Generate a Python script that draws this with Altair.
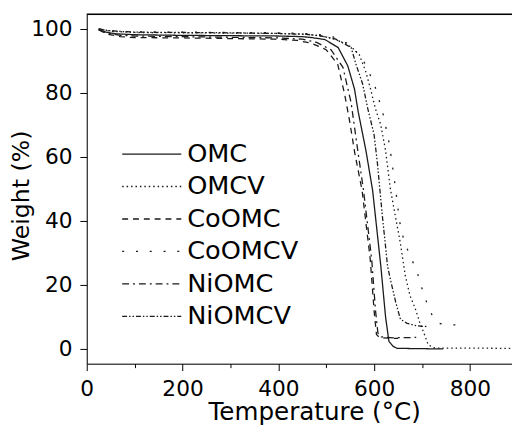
import altair as alt
import pandas as pd

# ---- data ----
series_names = ["OMC", "OMCV", "CoOMC", "CoOMCV", "NiOMC", "NiOMCV"]

omc_t = [25, 40, 60, 100, 200, 300, 400, 450, 470, 497, 525, 545, 559, 567, 583, 597, 614, 624, 631, 640, 648, 744]
omc_w = [99.8, 99.0, 98.5, 98.2, 98.0, 97.9, 97.8, 97.6, 97.3, 96.7, 94.2, 88.5, 81.3, 74.0, 62.0, 49.5, 26.0, 10.0, 2.4, 0.8, 0.2, 0.0]

omcv_t = [25, 50, 100, 200, 300, 400, 450, 480, 510, 540, 555, 569, 583, 593, 603, 614, 624, 634, 645, 655, 665, 675, 686, 696, 703, 713, 727, 890]
omcv_w = [99.9, 99.3, 98.9, 98.8, 98.7, 98.6, 98.4, 98.0, 97.2, 95.5, 94.0, 92.0, 86.5, 81.0, 75.0, 70.0, 62.0, 50.0, 41.0, 33.0, 23.0, 16.7, 12.6, 8.0, 5.4, 1.3, 0.3, 0.2]

coomc_t = [25, 40, 70, 100, 200, 300, 400, 440, 470, 500, 524, 538, 548, 560, 575, 592, 600, 605, 612, 650]
coomc_w = [99.8, 98.5, 97.6, 97.3, 97.2, 97.0, 96.8, 96.4, 95.5, 93.5, 89.0, 80.0, 72.0, 61.0, 49.5, 28.0, 12.0, 4.5, 3.5, 3.3]

coomcv_t = [25, 60, 100, 200, 300, 400, 470, 510, 545, 575, 600, 618, 632, 645, 653, 662, 674, 686, 696, 703, 715, 723, 735, 760, 785]
coomcv_w = [100.0, 99.3, 99.1, 99.0, 98.9, 98.8, 98.5, 97.8, 95.5, 91.0, 83.0, 74.0, 64.0, 50.0, 40.0, 34.0, 29.5, 25.5, 21.3, 17.2, 12.6, 10.0, 8.0, 7.5, 7.5]

niomc_t = [25, 40, 70, 100, 200, 300, 400, 450, 480, 510, 535, 552, 565, 578, 595, 603, 608, 615, 640, 688]
niomc_w = [99.7, 98.8, 98.0, 97.8, 97.6, 97.4, 97.2, 96.8, 95.8, 93.5, 88.0, 77.0, 63.0, 49.5, 28.0, 12.0, 5.0, 3.8, 3.5, 3.6]

niomcv_t = [25, 50, 100, 200, 300, 400, 460, 490, 520, 552, 563, 576, 587, 600, 607, 612, 617, 624, 628, 634, 645, 655, 669, 690, 712]
niomcv_w = [100.0, 99.4, 99.0, 98.9, 98.8, 98.6, 98.3, 97.8, 96.8, 94.2, 88.6, 82.9, 75.0, 67.0, 58.0, 50.0, 42.0, 32.0, 26.0, 21.8, 14.7, 9.3, 8.0, 7.2, 7.0]

x_ticks = [0, 100, 200, 300, 400, 500, 600, 700, 800]
y_ticks = [0, 10, 20, 30, 40, 50, 60, 70, 80, 90, 100]
x_domain = [0, 888]
y_domain = [-4.6, 104.6]

dash_range = [[1, 0], [1.5, 3], [6, 5], [2, 12], [7, 4, 2, 4], [5, 2, 1.5, 2, 1.5, 2]]

rows = []
for name, ts, ws in [("OMC", omc_t, omc_w), ("OMCV", omcv_t, omcv_w),
                     ("CoOMC", coomc_t, coomc_w), ("CoOMCV", coomcv_t, coomcv_w),
                     ("NiOMC", niomc_t, niomc_w), ("NiOMCV", niomcv_t, niomcv_w)]:
    for t, w in zip(ts, ws):
        rows.append({"sample": name, "T": t, "W": w})
df = pd.DataFrame(rows)

frame_df = pd.DataFrame({"T": [x_domain[0]], "T2": [x_domain[1]], "W": [y_domain[1]]})

FONT = "DejaVu Sans"
xs = alt.Scale(domain=x_domain, nice=False, zero=False)
ys = alt.Scale(domain=y_domain, nice=False, zero=False)

x_bottom = alt.X(
    "T:Q", scale=xs,
    axis=alt.Axis(
        title="Temperature (°C)",
        values=x_ticks,
        labelExpr="datum.value % 200 === 0 ? datum.label : ''",
        tickSize={"condition": {"test": "datum.value % 200 === 0", "value": 7}, "value": 4},
        grid=False, domainColor="black", tickColor="black",
        labelFontSize=22, titleFontSize=25, labelFont=FONT, titleFont=FONT,
        labelColor="black", titleColor="black", titleFontWeight="normal",
        labelPadding=8, labelFlush=False, labelOverlap=False,
        titleX=231, titleY=57, titleBaseline="alphabetic", titleAlign="center",
    ),
)

y_left = alt.Y(
    "W:Q", scale=ys,
    axis=alt.Axis(
        title="Weight (%)",
        values=y_ticks,
        labelExpr="datum.value % 20 === 0 ? datum.label : ''",
        tickSize={"condition": {"test": "datum.value % 20 === 0", "value": 7}, "value": 4},
        grid=False, domainColor="black", tickColor="black",
        labelFontSize=22, titleFontSize=24, labelFont=FONT, titleFont=FONT,
        labelColor="black", titleColor="black", titleFontWeight="normal",
        labelPadding=8, labelFlush=False, labelOverlap=False,
        titleX=-54, titleY=184, titleBaseline="bottom", titleAlign="center", titleAngle=270,
    ),
)

lines = alt.Chart(df).mark_line(color="#1a1a1a", strokeWidth=1.3, clip=True).encode(
    x=x_bottom,
    y=y_left,
    strokeDash=alt.StrokeDash(
        "sample:N",
        scale=alt.Scale(domain=series_names, range=dash_range),
        sort=series_names,
        legend=alt.Legend(
            orient="none", legendX=50, legendY=126, title=None,
            symbolType="M-2,0H2", symbolSize=900, symbolStrokeWidth=1.3,
            symbolStrokeColor="#1a1a1a", symbolFillColor="transparent",
            labelFontSize=26, labelFont=FONT, labelColor="black",
            labelOffset=20, padding=0, rowPadding=4, labelLimit=0,
        ),
    ),
    order="T:Q",
)

# top edge of the frame, drawn through the shared scales
top_frame = alt.Chart(frame_df).mark_rule(color="black", strokeWidth=1.5).encode(
    x=alt.X("T:Q", scale=xs),
    x2="T2:Q",
    y=alt.Y("W:Q", scale=ys),
)

chart = alt.layer(lines, top_frame).properties(
    width=432, height=355,
    autosize=alt.AutoSizeParams(type="none"),
    padding={"left": 80, "top": 3, "right": 0, "bottom": 63},
).configure_view(stroke=None).configure(background="white")

chart.save("out.html", embed_options={"renderer": "svg", "actions": False})
